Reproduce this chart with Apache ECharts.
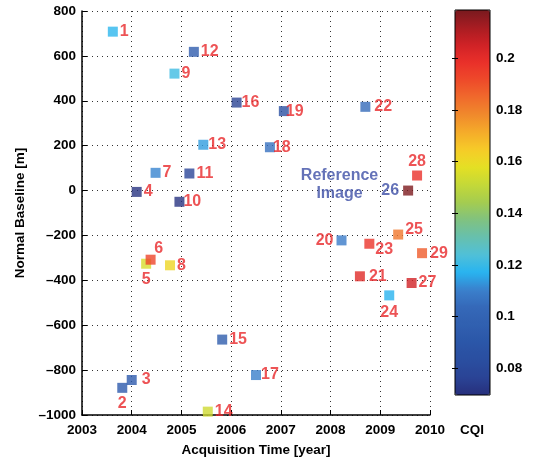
<!DOCTYPE html>
<html>
<head>
<meta charset="utf-8">
<script src="https://cdn.jsdelivr.net/npm/echarts@6/dist/echarts.min.js"></script>
<style>html,body{margin:0;padding:0;background:#fff}#c{width:540px;height:465px}</style>
</head>
<body>
<div id="c"></div>
<script>
// ---- data ----
const ids = [1,2,3,4,5,6,7,8,9,10,11,12,13,14,15,16,17,18,19,20,21,22,23,24,25,26,27,28,29];
const years = [2003.62,2003.81,2004.00,2004.10,2004.29,2004.38,2004.48,2004.77,2004.86,2004.96,
               2005.16,2005.25,2005.44,2005.53,2005.82,2006.11,2006.50,2006.78,2007.06,2008.22,
               2008.59,2008.70,2008.78,2009.18,2009.36,2009.56,2009.63,2009.74,2009.84];
const baseline = [708,-879,-844,-6,-326,-308,79,-333,521,-50,
                  76,618,204,-985,-664,392,-822,193,354,-222,
                  -382,373,-237,-467,-196,0,-412,67,-279];
const cqi = [0.118,0.093,0.093,0.071,0.155,0.193,0.111,0.161,0.121,0.071,
             0.078,0.095,0.114,0.153,0.094,0.076,0.110,0.106,0.085,0.109,
             0.201,0.104,0.197,0.117,0.182,0.218,0.205,0.198,0.188];
const xTicks = [2003,2004,2005,2006,2007,2008,2009,2010];
const yTicks = [-1000,-800,-600,-400,-200,0,200,400,600,800];
const cbTicks = [0.08,0.10,0.12,0.14,0.16,0.18,0.20];
const cqiMin = 0.0697, cqiMax = 0.2187;
const refLabel = {year: 2008.18, baseline: 27, text: 'Reference\nImage'};

// ---- styling ----
const FONT = 'Liberation Sans, Arial, Helvetica, sans-serif';
const RED = '#e8282a', BLUE = '#3d4fa6';
const colorStops = ['#272f7c','#2a4496','#2a4ea0','#2b56a8','#3060b0','#3568b8','#3a80cc','#28b4f0',
  '#50c0d8','#66c0ae','#80c280','#a4cc50','#c4d838','#e4e024','#f6cc28','#f5ac2a','#f08a2c',
  '#f06a2c','#ee4a2a','#ea302a','#d02226','#a81c22','#781a1e'];
const labelStyle = {
  2:{position:'bottom',distance:3}, 3:{distance:5}, 5:{position:'bottom',distance:3},
  6:{position:'top',distance:0,offset:[8,2]}, 10:{distance:-1}, 13:{distance:0}, 16:{distance:0},
  17:{distance:0}, 18:{distance:-2}, 19:{distance:-3}, 20:{position:'left',distance:3},
  21:{distance:4}, 22:{distance:4}, 23:{distance:1,offset:[0,6]}, 24:{position:'bottom',distance:4},
  25:{distance:2,offset:[0,-5]}, 26:{position:'left',distance:4,color:BLUE},
  28:{position:'top',distance:1}, 29:{distance:3}
};

const points = ids.map((id, i) => ({
  name: String(id),
  value: [years[i], baseline[i], cqi[i]],
  label: Object.assign({show:true, position:'right', distance:2}, labelStyle[id] || {})
}));

const dotted = {show:true, lineStyle:{color:'#333', width:1, type:[1,4]}};
const minusFmt = v => String(v).replace('-', '\u2013');

const chart = echarts.init(document.getElementById('c'), null, {renderer:'canvas'});
chart.setOption({
  backgroundColor:'#fff',
  animation:false,
  grid:[
    {left:82, right:110, top:11, bottom:50},
    {left:455, top:10, width:35, height:385, show:true, borderColor:'#000', borderWidth:1, z:10, backgroundColor:'transparent'}
  ],
  xAxis:[
    {type:'value', gridIndex:0, min:xTicks[0], max:xTicks[xTicks.length-1], interval:1,
     axisLine:{show:true, onZero:false, lineStyle:{color:'#000', width:1.5}},
     axisTick:{show:true, inside:true, length:5, lineStyle:{color:'#000'}},
     axisLabel:{color:'#000', fontFamily:FONT, fontWeight:'bold', fontSize:13.5, margin:8, formatter:v => String(v)},
     splitLine:dotted,
     name:'Acquisition Time [year]', nameLocation:'middle', nameGap:28,
     nameTextStyle:{color:'#000', fontFamily:FONT, fontWeight:'bold', fontSize:13.5}},
    {type:'value', gridIndex:1, min:0, max:1, show:false}
  ],
  yAxis:[
    {type:'value', gridIndex:0, min:yTicks[0], max:yTicks[yTicks.length-1], interval:200,
     axisLine:{show:true, onZero:false, lineStyle:{color:'#000', width:1.5}},
     axisTick:{show:true, inside:true, length:5, lineStyle:{color:'#000'}},
     axisLabel:{color:'#000', fontFamily:FONT, fontWeight:'bold', fontSize:13.5, margin:6, formatter:minusFmt},
     splitLine:dotted,
     name:'Normal Baseline [m]', nameLocation:'middle', nameGap:54, nameRotate:90,
     nameTextStyle:{color:'#000', fontFamily:FONT, fontWeight:'bold', fontSize:13.5}},
    {type:'value', gridIndex:1, min:cqiMin, max:cqiMax, position:'right', z:12,
     axisLine:{show:false},
     axisTick:{show:true, inside:true, length:3, customValues:cbTicks, lineStyle:{color:'#000'}},
     axisLabel:{show:true, color:'#000', fontFamily:FONT, fontWeight:'bold', fontSize:13.5, margin:6,
       customValues:cbTicks, formatter:v => String(+(+v).toFixed(2))},
     splitLine:{show:false}},
    {type:'value', gridIndex:1, min:cqiMin, max:cqiMax, position:'left', z:12,
     axisLine:{show:false},
     axisTick:{show:true, inside:true, length:3, customValues:cbTicks, lineStyle:{color:'#000'}},
     axisLabel:{show:false}, splitLine:{show:false}}
  ],
  visualMap:{
    type:'continuous', seriesIndex:0, dimension:2, min:cqiMin, max:cqiMax,
    left:455, top:10, itemWidth:35, itemHeight:385, padding:0, calculable:false,
    text:['',''], showLabel:false, hoverLink:false,
    inRange:{color:colorStops}
  },
  graphic:[
    {type:'text', left:460, top:423, z:20,
     style:{text:'CQI', fill:'#000', font:'bold 13.5px ' + FONT}}
  ],
  series:[
    {type:'scatter', xAxisIndex:0, yAxisIndex:0, symbol:'rect', symbolSize:10,
     data:points,
     label:{show:true, color:RED, fontFamily:FONT, fontWeight:'bold', fontSize:16, formatter:'{b}'},
     emphasis:{disabled:true}},
    {type:'scatter', xAxisIndex:0, yAxisIndex:0, symbolSize:0, silent:true,
     data:[[refLabel.year, refLabel.baseline]],
     label:{show:true, position:'inside', formatter:refLabel.text, color:BLUE,
       fontFamily:FONT, fontWeight:'bold', fontSize:16, lineHeight:18, align:'center'}}
  ]
});
</script>
</body>
</html>
